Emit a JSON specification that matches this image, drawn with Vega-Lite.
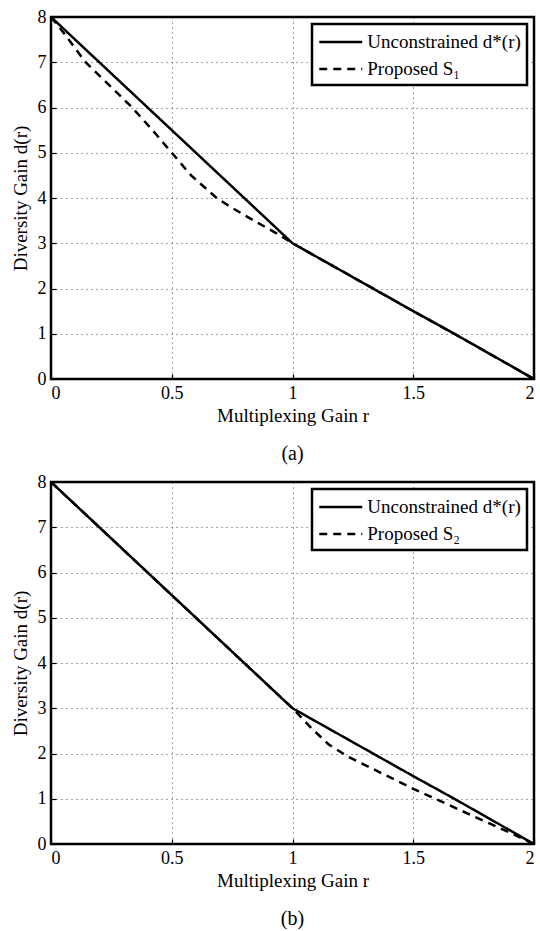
{
  "$schema": "https://vega.github.io/schema/vega-lite/v6.json",
  "autosize": {"type": "pad"},
  "padding": {"left": 9, "top": 6, "right": 0, "bottom": 0},
  "background": "white",
  "bounds": "flush",
  "spacing": 103,
  "resolve": {"scale": {"strokeDash": "independent"}, "legend": {"strokeDash": "independent"}},
  "config": {
    "font": "Liberation Serif",
    "view": {"stroke": "black", "strokeWidth": 2.5},
    "axis": {
      "labelFont": "Liberation Serif", "labelFontSize": 18, "labelColor": "black",
      "titleFont": "Liberation Serif", "titleFontSize": 19, "titleFontWeight": "normal", "titleColor": "black",
      "grid": true, "gridColor": "black", "gridDash": [1, 4], "gridWidth": 1, "gridOpacity": 0.7,
      "domain": false, "ticks": true, "tickSize": -5, "tickColor": "black", "tickWidth": 1.2
    },
    "legend": {
      "labelFont": "Liberation Serif", "labelFontSize": 19, "labelColor": "black",
      "fillColor": "white", "strokeColor": "black", "strokeWidth": 2.5, "padding": 6,
      "orient": "top-right", "offset": 7, "rowPadding": 5
    },
    "title": {"font": "Liberation Serif", "fontSize": 20, "fontWeight": "normal", "color": "black"}
  },
  "datasets": {
    "a": [
      {"series": "Proposed S₁", "r": 0, "d": 8},
      {"series": "Proposed S₁", "r": 0.06, "d": 7.6},
      {"series": "Proposed S₁", "r": 0.143, "d": 7},
      {"series": "Proposed S₁", "r": 0.25, "d": 6.45},
      {"series": "Proposed S₁", "r": 0.336, "d": 6},
      {"series": "Proposed S₁", "r": 0.42, "d": 5.5},
      {"series": "Proposed S₁", "r": 0.5, "d": 5},
      {"series": "Proposed S₁", "r": 0.58, "d": 4.5},
      {"series": "Proposed S₁", "r": 0.686, "d": 4},
      {"series": "Proposed S₁", "r": 0.75, "d": 3.78},
      {"series": "Proposed S₁", "r": 0.857, "d": 3.45},
      {"series": "Proposed S₁", "r": 0.94, "d": 3.2},
      {"series": "Proposed S₁", "r": 1, "d": 3},
      {"series": "Proposed S₁", "r": 1.2, "d": 2.4},
      {"series": "Proposed S₁", "r": 1.5, "d": 1.5},
      {"series": "Proposed S₁", "r": 1.67, "d": 1},
      {"series": "Proposed S₁", "r": 2, "d": 0},
      {"series": "Unconstrained d*(r)", "r": 0, "d": 8},
      {"series": "Unconstrained d*(r)", "r": 0.3, "d": 6.5},
      {"series": "Unconstrained d*(r)", "r": 0.4, "d": 6},
      {"series": "Unconstrained d*(r)", "r": 0.6, "d": 5},
      {"series": "Unconstrained d*(r)", "r": 0.7, "d": 4.5},
      {"series": "Unconstrained d*(r)", "r": 0.9, "d": 3.5},
      {"series": "Unconstrained d*(r)", "r": 1, "d": 3},
      {"series": "Unconstrained d*(r)", "r": 1.2, "d": 2.4},
      {"series": "Unconstrained d*(r)", "r": 1.5, "d": 1.5},
      {"series": "Unconstrained d*(r)", "r": 1.67, "d": 1},
      {"series": "Unconstrained d*(r)", "r": 2, "d": 0}
    ],
    "b": [
      {"series": "Proposed S₂", "r": 0, "d": 8},
      {"series": "Proposed S₂", "r": 0.3, "d": 6.5},
      {"series": "Proposed S₂", "r": 0.6, "d": 5},
      {"series": "Proposed S₂", "r": 0.9, "d": 3.5},
      {"series": "Proposed S₂", "r": 1, "d": 3},
      {"series": "Proposed S₂", "r": 1.08, "d": 2.55},
      {"series": "Proposed S₂", "r": 1.15, "d": 2.2},
      {"series": "Proposed S₂", "r": 1.23, "d": 1.93},
      {"series": "Proposed S₂", "r": 1.5, "d": 1.22},
      {"series": "Proposed S₂", "r": 1.9, "d": 0.25},
      {"series": "Proposed S₂", "r": 2, "d": 0},
      {"series": "Unconstrained d*(r)", "r": 0, "d": 8},
      {"series": "Unconstrained d*(r)", "r": 0.3, "d": 6.5},
      {"series": "Unconstrained d*(r)", "r": 0.4, "d": 6},
      {"series": "Unconstrained d*(r)", "r": 0.6, "d": 5},
      {"series": "Unconstrained d*(r)", "r": 0.7, "d": 4.5},
      {"series": "Unconstrained d*(r)", "r": 0.9, "d": 3.5},
      {"series": "Unconstrained d*(r)", "r": 1, "d": 3},
      {"series": "Unconstrained d*(r)", "r": 1.2, "d": 2.4},
      {"series": "Unconstrained d*(r)", "r": 1.5, "d": 1.5},
      {"series": "Unconstrained d*(r)", "r": 1.67, "d": 1},
      {"series": "Unconstrained d*(r)", "r": 2, "d": 0}
    ]
  },
  "vconcat": [
    {
      "width": 483, "height": 362,
      "title": {"text": "(a)", "orient": "bottom", "offset": 19, "font": "Liberation Serif"},
      "data": {"name": "a"},
      "encoding": {
        "x": {"field": "r", "type": "quantitative", "scale": {"domain": [0, 2], "nice": false},
              "axis": {"values": [0, 0.5, 1, 1.5, 2], "format": "~g", "title": "Multiplexing Gain r", "labelPadding": 10, "titlePadding": 4}},
        "y": {"field": "d", "type": "quantitative", "scale": {"domain": [0, 8], "nice": false},
              "axis": {"values": [0, 1, 2, 3, 4, 5, 6, 7, 8], "title": "Diversity Gain d(r)", "labelPadding": 10, "titlePadding": 7}},
        "strokeDash": {"field": "series", "type": "nominal",
              "scale": {"domain": ["Unconstrained d*(r)", "Proposed S₁"], "range": [[1, 0], [8, 6]]},
              "legend": {"title": null, "symbolType": "M-2,0H2", "symbolSize": 462, "symbolOffset": 10.75, "labelOffset": 14.5,
                         "labelFont": "Liberation Serif",
                         "symbolStrokeColor": "black", "symbolFillColor": "transparent", "symbolStrokeWidth": 2.5}}
      },
      "layer": [
        {"transform": [{"filter": "datum.series != 'Unconstrained d*(r)'"}], "mark": {"type": "line", "color": "black", "strokeWidth": 2.5}},
        {"transform": [{"filter": "datum.series == 'Unconstrained d*(r)'"}], "mark": {"type": "line", "color": "black", "strokeWidth": 2.5}}
      ]
    },
    {
      "width": 483, "height": 362,
      "title": {"text": "(b)", "orient": "bottom", "offset": 19, "font": "Liberation Serif"},
      "data": {"name": "b"},
      "encoding": {
        "x": {"field": "r", "type": "quantitative", "scale": {"domain": [0, 2], "nice": false},
              "axis": {"values": [0, 0.5, 1, 1.5, 2], "format": "~g", "title": "Multiplexing Gain r", "labelPadding": 10, "titlePadding": 4}},
        "y": {"field": "d", "type": "quantitative", "scale": {"domain": [0, 8], "nice": false},
              "axis": {"values": [0, 1, 2, 3, 4, 5, 6, 7, 8], "title": "Diversity Gain d(r)", "labelPadding": 10, "titlePadding": 7}},
        "strokeDash": {"field": "series", "type": "nominal",
              "scale": {"domain": ["Unconstrained d*(r)", "Proposed S₂"], "range": [[1, 0], [8, 6]]},
              "legend": {"title": null, "symbolType": "M-2,0H2", "symbolSize": 462, "symbolOffset": 10.75, "labelOffset": 14.5,
                         "labelFont": "Liberation Serif",
                         "symbolStrokeColor": "black", "symbolFillColor": "transparent", "symbolStrokeWidth": 2.5}}
      },
      "layer": [
        {"transform": [{"filter": "datum.series != 'Unconstrained d*(r)'"}], "mark": {"type": "line", "color": "black", "strokeWidth": 2.5}},
        {"transform": [{"filter": "datum.series == 'Unconstrained d*(r)'"}], "mark": {"type": "line", "color": "black", "strokeWidth": 2.5}}
      ]
    }
  ]
}
